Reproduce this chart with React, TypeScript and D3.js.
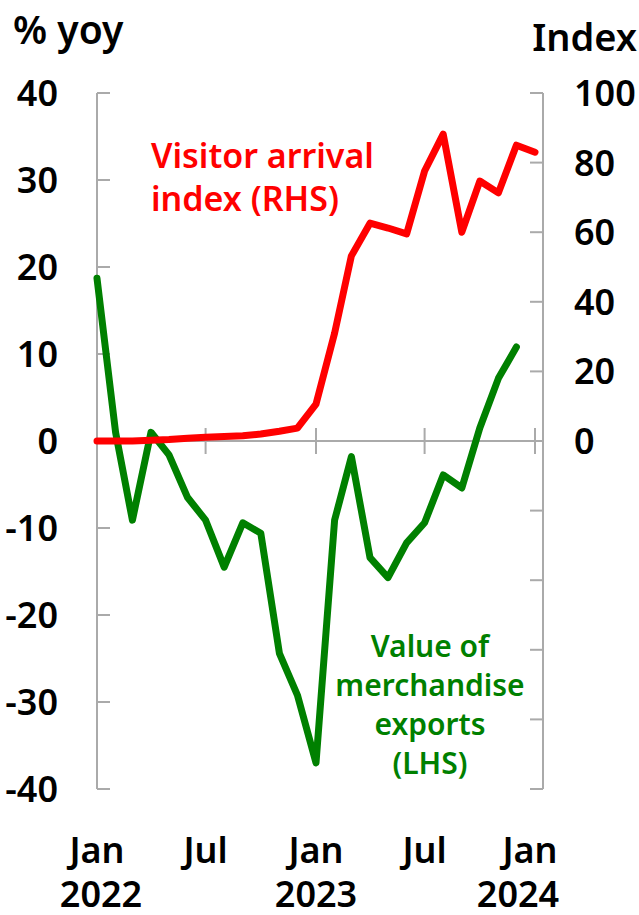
import React, { useRef, useEffect } from "react";
import * as d3 from "d3";

// months from Jan 2022
const months: string[] = [
  "2022-01", "2022-02", "2022-03", "2022-04", "2022-05", "2022-06",
  "2022-07", "2022-08", "2022-09", "2022-10", "2022-11", "2022-12",
  "2023-01", "2023-02", "2023-03", "2023-04", "2023-05", "2023-06",
  "2023-07", "2023-08", "2023-09", "2023-10", "2023-11", "2023-12",
  "2024-01",
];

// value of merchandise exports, % yoy (LHS), Jan 2022 - Dec 2023
const exportsYoy: number[] = [
  18.7, 1.0, -9.1, 1.0, -1.6, -6.5, -9.1, -14.5, -9.4, -10.6, -24.4, -29.2,
  -37.0, -9.1, -1.8, -13.4, -15.7, -11.7, -9.4, -3.9, -5.4, 1.5, 7.2, 10.8,
];

// visitor arrival index (RHS), Jan 2022 - Jan 2024
const visitorIndex: number[] = [
  0, 0, 0, 0.2, 0.4, 0.8, 1.1, 1.3, 1.5, 2.0, 2.8, 3.7,
  10.6, 31, 53.2, 62.6, 61.2, 59.5, 77.6, 88.2, 60, 74.7, 71.3, 85,
  83,
];

const leftTicks: number[] = [40, 30, 20, 10, 0, -10, -20, -30, -40];
const rightTicks: number[] = [100, 80, 60, 40, 20, 0];
const rightTickMarks: number[] = [100, 80, 60, 40, 20, 0, -20, -40, -60, -80, -100];
const xTickMonths: string[] = ["2022-01", "2022-07", "2023-01", "2023-07", "2024-01"];
const xTickLabels: string[] = ["Jan", "Jul", "Jan", "Jul", "Jan"];
const yearLabels: string[] = ["2022", "2023", "2024"];
const yearMonths: string[] = ["2022-01", "2023-01", "2024-01"];

const FONT = "'Noto Sans', sans-serif";

const Chart = () => {
  const ref = useRef<SVGSVGElement>(null);

  useEffect(() => {
    const width = 639;
    const height = 915;
    const left = 97;
    const right = 543;
    const top = 93;
    const bottom = 789;

    const svg = d3.select(ref.current).attr("width", width).attr("height", height);
    svg.selectAll("*").remove();

    const parse = d3.timeParse("%Y-%m");
    const x = d3
      .scaleTime()
      .domain([parse("2022-01") as Date, parse("2024-01") as Date])
      .range([left, 535]);

    const yL = d3.scaleLinear().domain([-40, 40]).range([bottom, top]);
    const yR = d3.scaleLinear().domain([-100, 100]).range([bottom, top]);

    const axisColor = "#aaaaaa";

    // axes lines
    svg.append("line").attr("x1", left).attr("x2", left).attr("y1", top).attr("y2", bottom)
      .attr("stroke", axisColor).attr("stroke-width", 2);
    svg.append("line").attr("x1", right).attr("x2", right).attr("y1", top).attr("y2", bottom)
      .attr("stroke", axisColor).attr("stroke-width", 2);

    // ticks point inward on both sides
    svg.selectAll(".ltick").data(leftTicks).enter().append("line")
      .attr("x1", left).attr("x2", left + 13)
      .attr("y1", (d) => yL(d)).attr("y2", (d) => yL(d))
      .attr("stroke", axisColor).attr("stroke-width", 2);

    svg.selectAll(".rtick").data(rightTickMarks).enter().append("line")
      .attr("x1", right - 13).attr("x2", right)
      .attr("y1", (d) => yR(d)).attr("y2", (d) => yR(d))
      .attr("stroke", axisColor).attr("stroke-width", 2);

    // zero line with month ticks across it
    svg.append("line").attr("x1", left).attr("x2", right)
      .attr("y1", yL(0)).attr("y2", yL(0))
      .attr("stroke", axisColor).attr("stroke-width", 2);

    svg.selectAll(".xtick").data(xTickMonths.slice(1)).enter().append("line")
      .attr("x1", (d) => x(parse(d) as Date)).attr("x2", (d) => x(parse(d) as Date))
      .attr("y1", yL(0) - 13).attr("y2", yL(0) + 13)
      .attr("stroke", axisColor).attr("stroke-width", 2);

    const label = (sel: any, size: number) =>
      sel.style("font-family", FONT).style("font-weight", 600).style("font-size", `${size}px`);

    // tick labels
    label(svg.selectAll(".llab").data(leftTicks).enter().append("text")
      .attr("x", 58).attr("y", (d) => yL(d))
      .attr("dy", "0.36em").attr("text-anchor", "end"), 36)
      .text((d: number) => String(d));

    label(svg.selectAll(".rlab").data(rightTicks).enter().append("text")
      .attr("x", 574).attr("y", (d) => yR(d))
      .attr("dy", "0.36em").attr("text-anchor", "start"), 36)
      .text((d: number) => String(d));

    // last labels sit a little left so they stay on the page
    const nudge = (d: string, i: number, n: number, shift: number) =>
      x(parse(d) as Date) + (i === n - 1 ? shift : 0);

    label(svg.selectAll(".xlab").data(xTickMonths).enter().append("text")
      .attr("x", (d, i) => nudge(d, i, xTickMonths.length, -5)).attr("y", 863)
      .attr("text-anchor", "middle"), 36)
      .text((d: string, i: number) => xTickLabels[i]);

    label(svg.selectAll(".ylab").data(yearMonths).enter().append("text")
      .attr("x", (d, i) => nudge(d, i, yearMonths.length, -17) + (i === 0 ? 4 : 0)).attr("y", 907)
      .attr("text-anchor", "middle"), 36)
      .text((d: string, i: number) => yearLabels[i]);

    // axis titles
    label(svg.append("text").attr("x", 13).attr("y", 44), 39).text("% yoy");
    label(svg.append("text").attr("x", 637).attr("y", 51).attr("text-anchor", "end"), 38)
      .text("Index");

    // lines
    const redLine = d3.line<number>()
      .x((d, i) => x(parse(months[i]) as Date))
      .y((d) => yR(d));
    const greenLine = d3.line<number>()
      .x((d, i) => x(parse(months[i]) as Date))
      .y((d) => yL(d));

    svg.append("path").datum(exportsYoy).attr("d", greenLine)
      .attr("fill", "none").attr("stroke", "#008000").attr("stroke-width", 7)
      .attr("stroke-linejoin", "round").attr("stroke-linecap", "round");

    svg.append("path").datum(visitorIndex).attr("d", redLine)
      .attr("fill", "none").attr("stroke", "#ff0000").attr("stroke-width", 7)
      .attr("stroke-linejoin", "round").attr("stroke-linecap", "round");

    // annotations
    const redText = label(svg.append("text").attr("fill", "#ff0000"), 34);
    redText.append("tspan").attr("x", 151).attr("y", 168).text("Visitor arrival");
    redText.append("tspan").attr("x", 151).attr("y", 211).text("index (RHS)");

    const greenText = label(svg.append("text").attr("fill", "#008000").attr("text-anchor", "middle"), 30);
    ["Value of", "merchandise", "exports", "(LHS)"].forEach((t, i) => {
      greenText.append("tspan").attr("x", 430).attr("y", 657 + i * 39).text(t);
    });
  }, []);

  return <svg ref={ref} style={{ position: "absolute", left: 0, top: 0 }}></svg>;
};

export default function App() {
  return <Chart />;
}
